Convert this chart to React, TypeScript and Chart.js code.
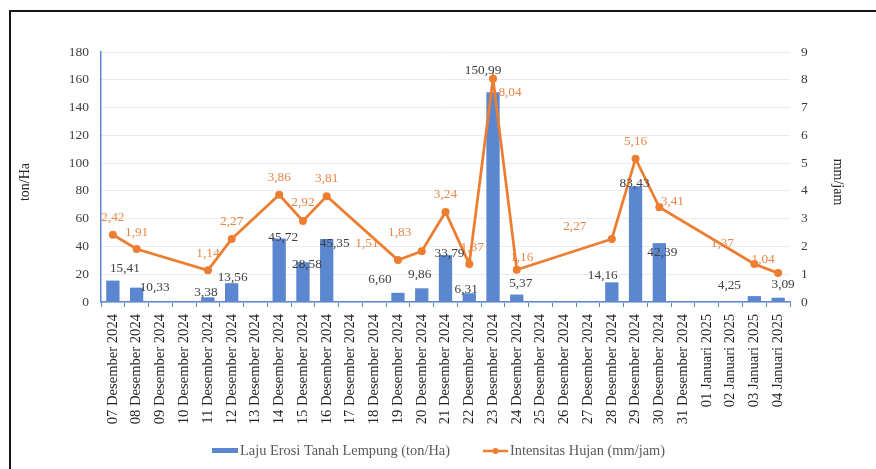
import React, { useEffect, useRef } from 'react';
import { Chart, registerables } from 'chart.js';

Chart.register(...registerables);

const categories = [
  '07 Desember 2024', '08 Desember 2024', '09 Desember 2024', '10 Desember 2024',
  '11 Desember 2024', '12 Desember 2024', '13 Desember 2024', '14 Desember 2024',
  '15 Desember 2024', '16 Desember 2024', '17 Desember 2024', '18 Desember 2024',
  '19 Desember 2024', '20 Desember 2024', '21 Desember 2024', '22 Desember 2024',
  '23 Desember 2024', '24 Desember 2024', '25 Desember 2024', '26 Desember 2024',
  '27 Desember 2024', '28 Desember 2024', '29 Desember 2024', '30 Desember 2024',
  '31 Desember 2024', '01 Januari 2025', '02 Januari 2025', '03 Januari 2025',
  '04 Januari 2025',
];

const erosion: (number | null)[] = [
  15.41, 10.33, null, null, 3.38, 13.56, null, 45.72, 28.58, 45.35, null, null,
  6.6, 9.86, 33.79, 6.31, 150.99, 5.37, null, null, null, 14.16, 83.43, 42.39,
  null, null, null, 4.25, 3.09,
];

const rainfall: (number | null)[] = [
  2.42, 1.91, null, null, 1.14, 2.27, null, 3.86, 2.92, 3.81, null, null,
  1.51, 1.83, 3.24, 1.37, 8.04, 1.16, null, null, null, 2.27, 5.16, 3.41,
  null, null, null, 1.37, 1.04,
];

const leftTickStep = 20;
const leftMax = 180;
const rightTickStep = 1;
const rightMax = 9;

const barLabel = 'Laju Erosi Tanah Lempung (ton/Ha)';
const lineLabel = 'Intensitas Hujan (mm/jam)';
const leftTitle = 'ton/Ha';
const rightTitle = 'mm/jam';

// label placement offsets (style), relative to the mark
const barLabelOffsets: ([number, number] | null)[] = [
  [12, -12], [18, 0], null, null, [-2, -5], [1, -6], null, [4, -1], [4, 2], [8, 4], null, null,
  [-18, -13], [-2, -14], [4, -2], [-3, -4], [-10, -22], [4, -11], null, null, null, [-9, -7], [-1, -3], [3, 9],
  null, null, null, [-25, -11], [5, -13],
];
const lineLabelOffsets: ([number, number] | null)[] = [
  [0, -17], [0, -16], null, null, [0, -17], [0, -17], null, [0, -17], [0, -18], [0, -18], null, null,
  [-31, -17], [-22, -19], [0, -17], [3, -16], [17, 14], [5, -12], null, null, null, [-37, -12], [0, -17], [13, -6],
  null, null, null, [-32, -20], [-15, -14],
];

const BLUE = '#5B87D0';
const ORANGE = '#ED7D31';
const SERIF = '"Liberation Serif", "Times New Roman", serif';

const fmt = (v: number) => v.toFixed(2).replace('.', ',');

const overlay = {
  id: 'overlay',
  afterDatasetsDraw(chart: any) {
    const ctx = chart.ctx as CanvasRenderingContext2D;
    ctx.save();
    ctx.textAlign = 'center';
    ctx.textBaseline = 'middle';
    ctx.font = `13.3px ${SERIF}`;
    const barMeta = chart.getDatasetMeta(1);
    ctx.fillStyle = '#404040';
    erosion.forEach((v, i) => {
      if (v == null) return;
      const el = barMeta.data[i];
      const off = barLabelOffsets[i] || [0, -8];
      ctx.fillText(fmt(v), el.x + off[0], el.y + off[1]);
    });
    const lineMeta = chart.getDatasetMeta(0);
    ctx.fillStyle = '#E8874A';
    rainfall.forEach((v, i) => {
      if (v == null) return;
      const el = lineMeta.data[i];
      const off = lineLabelOffsets[i] || [0, -16];
      ctx.fillText(fmt(v), el.x + off[0], el.y + off[1]);
    });
    ctx.restore();
  },
  afterDraw(chart: any) {
    const ctx = chart.ctx as CanvasRenderingContext2D;
    const area = chart.chartArea;
    ctx.save();
    // frame
    ctx.fillStyle = '#151515';
    ctx.fillRect(9, 10, 2, 469);
    ctx.fillRect(9, 10, 876, 2);
    // axis titles
    ctx.fillStyle = '#262626';
    ctx.font = `14px ${SERIF}`;
    ctx.textAlign = 'center';
    ctx.textBaseline = 'middle';
    const midY = (area.top + area.bottom) / 2 + 5;
    ctx.save();
    ctx.translate(25, midY);
    ctx.rotate(-Math.PI / 2);
    ctx.fillText(leftTitle, 0, 0);
    ctx.restore();
    ctx.save();
    ctx.translate(838, midY);
    ctx.rotate(Math.PI / 2);
    ctx.fillText(rightTitle, 0, 0);
    ctx.restore();
    // legend
    const ly = 451;
    ctx.font = `14.4px ${SERIF}`;
    ctx.textAlign = 'left';
    ctx.fillStyle = BLUE;
    ctx.fillRect(212, ly - 3, 26, 5);
    ctx.fillStyle = '#595959';
    ctx.fillText(barLabel, 240, ly);
    ctx.strokeStyle = ORANGE;
    ctx.lineWidth = 2.5;
    ctx.beginPath();
    ctx.moveTo(483, ly);
    ctx.lineTo(508, ly);
    ctx.stroke();
    ctx.fillStyle = ORANGE;
    ctx.beginPath();
    ctx.arc(495.5, ly, 3, 0, Math.PI * 2);
    ctx.fill();
    ctx.fillStyle = '#595959';
    ctx.fillText(lineLabel, 510, ly);
    ctx.restore();
  },
};

export default function App() {
  const ref = useRef<HTMLCanvasElement | null>(null);
  useEffect(() => {
    document.body.style.margin = '0';
    document.body.style.overflow = 'hidden';
    document.body.style.background = '#fff';
    const chart = new Chart(ref.current as HTMLCanvasElement, {
      type: 'bar',
      data: {
        labels: categories,
        datasets: [
          {
            type: 'line',
            label: lineLabel,
            data: rainfall,
            yAxisID: 'y1',
            borderColor: ORANGE,
            backgroundColor: ORANGE,
            borderWidth: 2.75,
            pointRadius: 4,
            pointBackgroundColor: ORANGE,
            pointBorderWidth: 0,
            spanGaps: true,
            tension: 0,
            order: 0,
          } as any,
          {
            type: 'bar',
            label: barLabel,
            data: erosion,
            yAxisID: 'y',
            backgroundColor: BLUE,
            barPercentage: 0.56,
            categoryPercentage: 1,
            order: 1,
          } as any,
        ],
      },
      options: {
        responsive: false,
        animation: false,
        layout: { padding: { top: 52, left: 0, right: 0, bottom: 0 } },
        plugins: {
          legend: { display: false },
          tooltip: { enabled: false },
        },
        scales: {
          x: {
            offset: true,
            grid: {
              display: true,
              drawOnChartArea: false,
              drawTicks: true,
              tickLength: 5,
              color: BLUE,
              offset: true,
            },
            border: { color: BLUE, width: 1.5 },
            ticks: {
              autoSkip: false,
              minRotation: 90,
              maxRotation: 90,
              padding: 7,
              color: '#1f1f1f',
              font: { family: SERIF, size: 14.6 },
            },
            afterFit: (s: any) => { s.height = 167; },
          },
          y: {
            position: 'left',
            min: 0,
            max: leftMax,
            ticks: {
              stepSize: leftTickStep,
              padding: 12,
              color: '#404040',
              font: { family: SERIF, size: 13.5 },
            },
            grid: { color: '#EBEBEB', drawTicks: false },
            border: { color: BLUE, width: 1.5 },
            afterFit: (s: any) => { s.width = 101; },
          },
          y1: {
            position: 'right',
            min: 0,
            max: rightMax,
            ticks: {
              stepSize: rightTickStep,
              padding: 11,
              color: '#404040',
              font: { family: SERIF, size: 13.5 },
            },
            grid: { drawOnChartArea: false, drawTicks: false },
            border: { display: false },
            afterFit: (s: any) => { s.width = 86; },
          },
        },
      },
      plugins: [overlay],
    });
    return () => chart.destroy();
  }, []);
  return (
    <div style={{ position: 'fixed', left: 0, top: 0, width: 876, height: 469, background: '#fff' }}>
      <canvas ref={ref} width={876} height={469} style={{ width: 876, height: 469 }} />
    </div>
  );
}
